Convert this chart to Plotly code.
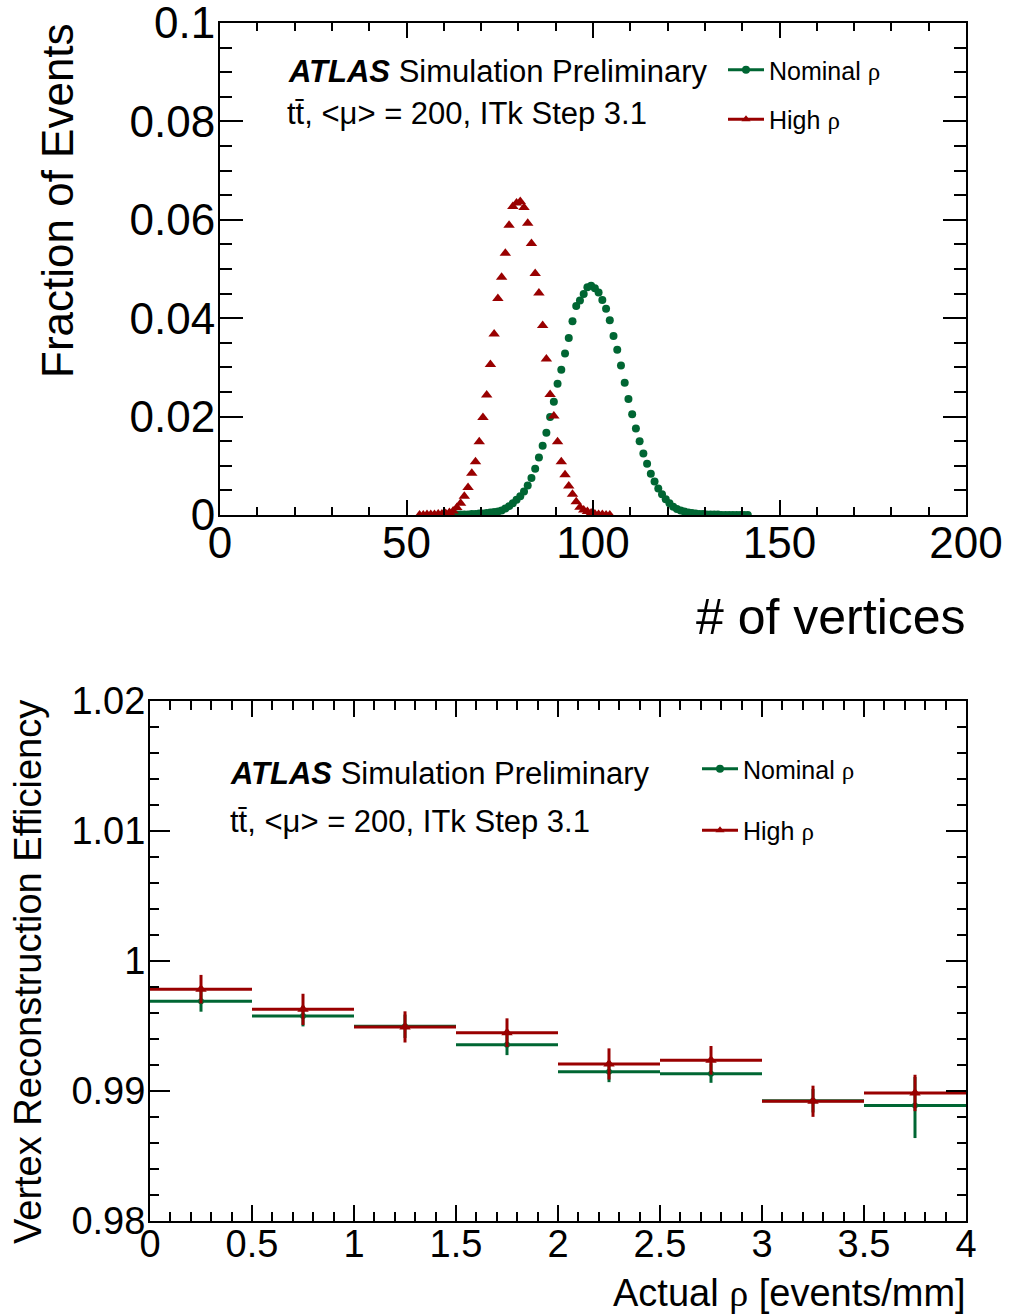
import plotly.graph_objects as go

# ---------------- data ----------------
# Top panel: fraction of events vs number of reconstructed vertices (bins of width 1)
nominal_first_bin = 61
nominal_fraction = [
    0.0000, 0.0000, 0.0001, 0.0001, 0.0001, 0.0001, 0.0002, 0.0002, 0.0003, 0.0003,
    0.0004, 0.0005, 0.0006, 0.0007,
    0.0009, 0.0013, 0.0018, 0.0024, 0.0031, 0.0038, 0.0048, 0.0060, 0.0075, 0.0094,
    0.0117, 0.0141, 0.0167, 0.0199, 0.0230, 0.0267, 0.0295, 0.0328, 0.0360, 0.0394,
    0.0425, 0.0436, 0.0449, 0.0463, 0.0466, 0.0461, 0.0452, 0.0437, 0.0419, 0.0396,
    0.0364, 0.0336, 0.0304, 0.0269, 0.0236, 0.0205, 0.0176, 0.0150, 0.0125, 0.0104,
    0.0084, 0.0068, 0.0054, 0.0042, 0.0032, 0.0024, 0.0017, 0.0012, 0.0009, 0.0007,
    0.0005, 0.0004, 0.0003, 0.0002, 0.0002, 0.0001,
    0.0001, 0.0001, 0.0001, 0.0000, 0.0000, 0.0000, 0.0000, 0.0000, 0.0000, 0.0000, 0.0000,
]
high_first_bin = 53
high_fraction = [
    0.0000, 0.0000, 0.0001, 0.0001, 0.0001, 0.0002, 0.0002, 0.0003, 0.0005, 0.0008,
    0.0015, 0.0024, 0.0038, 0.0056, 0.0085, 0.0108, 0.0149, 0.0198, 0.0244, 0.0306,
    0.0368, 0.0440, 0.0483, 0.0532, 0.0589, 0.0627, 0.0634, 0.0637, 0.0625, 0.0593,
    0.0552, 0.0491, 0.0451, 0.0385, 0.0317, 0.0245, 0.0201, 0.0149, 0.0108, 0.0082,
    0.0059, 0.0042, 0.0027, 0.0016, 0.0010, 0.0007, 0.0004, 0.0002, 0.0001, 0.0001,
    0.0000, 0.0000,
]

# Bottom panel: vertex reconstruction efficiency vs actual rho
rho_bin_low = [0.0, 0.5, 1.0, 1.5, 2.0, 2.5, 3.0, 3.5]
rho_bin_width = 0.5
eff_nominal = [0.99690, 0.99577, 0.99498, 0.99356, 0.99148, 0.99133, 0.98925, 0.98888]
eff_nominal_err_up = [0.0008, 0.0008, 0.0009, 0.0008, 0.0008, 0.0008, 0.0009, 0.0022]
eff_nominal_err_dn = [0.0008, 0.0008, 0.0009, 0.0008, 0.0008, 0.0007, 0.0009, 0.0025]
eff_high = [0.99783, 0.99628, 0.99493, 0.99449, 0.99208, 0.99236, 0.98921, 0.98985]
eff_high_err = [0.0011, 0.0012, 0.0012, 0.0011, 0.0012, 0.0011, 0.0012, 0.0014]

# tick labels
top_y_ticks = [0, 0.02, 0.04, 0.06, 0.08, 0.1]
top_y_labels = ["0", "0.02", "0.04", "0.06", "0.08", "0.1"]
bot_y_ticks = [0.98, 0.99, 1.0, 1.01, 1.02]
bot_y_labels = ["0.98", "0.99", "1", "1.01", "1.02"]

# ---------------- style ----------------
GREEN = "#006633"
RED = "#990000"
FONT = "Liberation Sans, Arial, Helvetica, sans-serif"
RHO = "<span style='font-family:Liberation Serif, serif'>ρ</span>"
W, H = 1009, 1316


def px(x):
    return x / W


def py(y):
    return 1 - y / H


nominal_x = [nominal_first_bin + 0.5 + i for i in range(len(nominal_fraction))]
high_x = [high_first_bin + 0.5 + i for i in range(len(high_fraction))]
rho_center = [lo + rho_bin_width / 2 for lo in rho_bin_low]

fig = go.Figure()

# top panel data
fig.add_trace(go.Scatter(
    x=nominal_x, y=nominal_fraction, mode="markers", xaxis="x", yaxis="y",
    marker=dict(symbol="circle", size=8, color=GREEN), showlegend=False,
))
fig.add_trace(go.Scatter(
    x=high_x, y=high_fraction, mode="markers", xaxis="x", yaxis="y",
    marker=dict(symbol="triangle-up", size=10, color=RED), showlegend=False,
))

# bottom panel data
fig.add_trace(go.Scatter(
    x=rho_center, y=eff_nominal, mode="markers", xaxis="x2", yaxis="y2",
    marker=dict(symbol="circle", size=6, color=GREEN),
    error_x=dict(type="constant", value=rho_bin_width / 2, color=GREEN, thickness=3, width=0),
    error_y=dict(type="data", array=eff_nominal_err_up, arrayminus=eff_nominal_err_dn,
                 symmetric=False, color=GREEN, thickness=3, width=0),
    showlegend=False,
))
fig.add_trace(go.Scatter(
    x=rho_center, y=eff_high, mode="markers", xaxis="x2", yaxis="y2",
    marker=dict(symbol="triangle-up", size=10, color=RED),
    error_x=dict(type="constant", value=rho_bin_width / 2, color=RED, thickness=3, width=0),
    error_y=dict(type="data", array=eff_high_err, color=RED, thickness=3, width=0),
    showlegend=False,
))

# legend entries (line + marker like ROOT "lp")
for name, col, sym, leg, grp in [
    ("Nominal " + RHO, GREEN, "circle", "legend", "a"),
    ("High " + RHO, RED, "triangle-up", "legend", "b"),
    ("Nominal " + RHO, GREEN, "circle", "legend2", "c"),
    ("High " + RHO, RED, "triangle-up", "legend2", "d"),
]:
    fig.add_trace(go.Scatter(
        x=[None], y=[None], mode="lines+markers", name=name, legend=leg, legendgroup=grp,
        line=dict(color=col, width=3), marker=dict(symbol=sym, size=8, color=col),
        xaxis="x" if leg == "legend" else "x2", yaxis="y" if leg == "legend" else "y2",
    ))


def axis(domain, rng, dtick, minor_dtick, majlen, minlen, fsize, anchor, standoff,
         tickvals=None, ticktext=None):
    d = dict(
        domain=domain, range=rng, dtick=dtick, tick0=rng[0], anchor=anchor,
        automargin=False, ticklabeloverflow="allow",
        showline=True, linecolor="black", linewidth=2, mirror="allticks",
        ticks="inside", ticklen=majlen, tickwidth=1.5, tickcolor="black",
        minor=dict(ticks="inside", dtick=minor_dtick, tick0=rng[0], ticklen=minlen,
                   tickwidth=1.5, tickcolor="black", showgrid=False),
        showgrid=False, zeroline=False, ticklabelstandoff=standoff,
        tickfont=dict(family=FONT, size=fsize, color="black"),
    )
    if tickvals is not None:
        d.update(tickmode="array", tickvals=tickvals, ticktext=ticktext)
    return d


fig.update_layout(
    template="none",
    width=W, height=H, margin=dict(l=0, r=0, t=0, b=0, autoexpand=False),
    paper_bgcolor="white", plot_bgcolor="white",
    font=dict(family=FONT, color="black"),
    xaxis=axis([px(220), px(966)], [0, 200], 50, 10, 15, 8, 44, "y", -12),
    yaxis=axis([py(515), py(23)], [0, 0.1000001], 0.02, 0.005, 23, 12, 44, "x", -6,
               top_y_ticks, top_y_labels),
    xaxis2=axis([px(150), px(966)], [0, 4], 0.5, 0.1, 16, 9, 38, "y2", -12),
    yaxis2=axis([py(1221), py(701)], [0.98, 1.0200001], 0.01, 0.002, 20, 9, 38, "x2", -5,
                bot_y_ticks, bot_y_labels),
    legend=dict(x=px(723), y=py(47), xanchor="left", yanchor="top",
                font=dict(family=FONT, size=25, color="black"),
                bgcolor="rgba(0,0,0,0)", itemwidth=36, tracegroupgap=14,
                traceorder="grouped"),
    legend2=dict(x=px(697), y=py(746), xanchor="left", yanchor="top",
                 font=dict(family=FONT, size=25, color="black"),
                 bgcolor="rgba(0,0,0,0)", itemwidth=36, tracegroupgap=26,
                 traceorder="grouped"),
)

ann = []
# top panel texts
ann.append(dict(x=px(286), y=py(71), text="<b><i>ATLAS</i></b> Simulation Preliminary",
                font=dict(size=31)))
ann.append(dict(x=px(285), y=py(114), text="tt̄, &lt;μ&gt; = 200, ITk Step 3.1",
                font=dict(size=31)))
# bottom panel texts
ann.append(dict(x=px(228), y=py(773), text="<b><i>ATLAS</i></b> Simulation Preliminary",
                font=dict(size=31)))
ann.append(dict(x=px(228), y=py(821), text="tt̄, &lt;μ&gt; = 200, ITk Step 3.1",
                font=dict(size=31)))
for a in ann:
    a.update(xref="paper", yref="paper", xanchor="left", yanchor="middle", showarrow=False)

# axis titles
ann.append(dict(x=px(968), y=py(617), text="# of vertices", xref="paper", yref="paper",
                xanchor="right", yanchor="middle", showarrow=False, font=dict(size=50)))
ann.append(dict(x=px(58), y=py(201), text="Fraction of Events", xref="paper", yref="paper",
                xanchor="center", yanchor="middle", textangle=-90, showarrow=False,
                font=dict(size=44)))
ann.append(dict(x=px(968), y=py(1293), text="Actual " + RHO + " [events/mm]", xref="paper",
                yref="paper", xanchor="right", yanchor="middle", showarrow=False,
                font=dict(size=38)))
ann.append(dict(x=px(28), y=py(972), text="Vertex Reconstruction Efficiency", xref="paper",
                yref="paper", xanchor="center", yanchor="middle", textangle=-90,
                showarrow=False, font=dict(size=38)))
fig.update_layout(annotations=ann)

fig.write_html("out.html")
